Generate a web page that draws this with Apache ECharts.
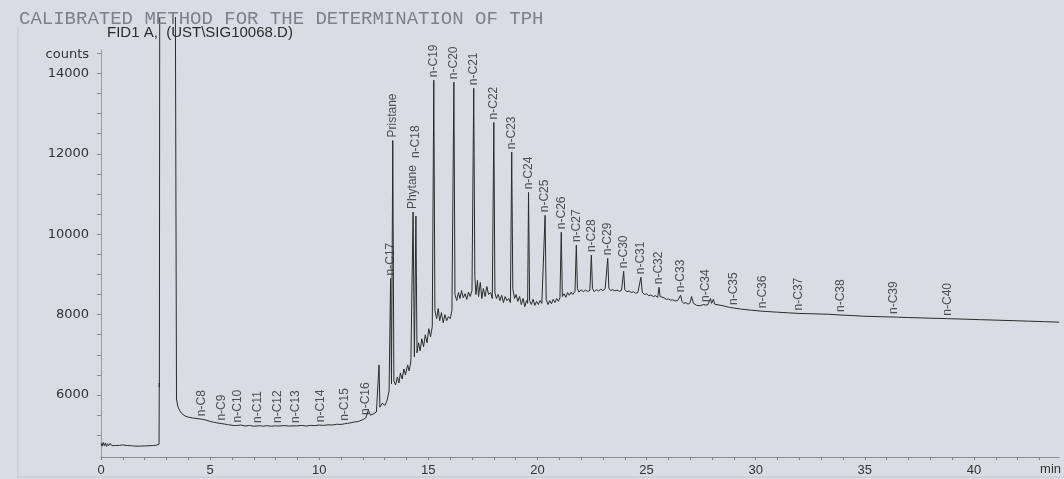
<!DOCTYPE html>
<html>
<head>
<meta charset="utf-8">
<script src="https://cdn.jsdelivr.net/npm/echarts@6/dist/echarts.min.js"></script>
<style>
  html, body { margin: 0; padding: 0; background: #d9dce3; }
  #chart { width: 1064px; height: 479px; }
</style>
</head>
<body>
<div id="chart"></div>
<script>
// FID trace as [retention time (min), counts]; null breaks the line where the signal is off scale
const earlyTrace = [
  [0.00,4800],[0.05,4730],[0.10,4820],[0.15,4740],[0.20,4810],[0.25,4720],[0.30,4790],[0.35,4740],
  [0.42,4800],[0.50,4740],[0.58,4780],[0.66,4745],[0.75,4770],[0.85,4750],[1.0,4760],[1.2,4745],
  [1.4,4740],[1.6,4730],[1.8,4730],[2.0,4735],[2.2,4740],[2.4,4745],[2.55,4755],[2.66,4780],
  [2.67,6300],[2.675,6200],[2.69,15400],[2.70,null]
];
const solventTail = [
  [3.41,15400],[3.46,5900],[3.52,5720],[3.6,5620],[3.7,5540],[3.85,5480],[4.0,5450],[4.2,5430],[4.4,5415]
];
const alkaneBaseline = [
  [4.8,5380],[5.0,5345],[5.2,5320],[5.4,5300],[5.65,5280],[5.8,5265],[6.0,5250],[6.15,5240],[6.4,5255],
  [6.6,5230],[6.8,5245],[7.0,5225],[7.3,5240],[7.4,5225],[7.6,5240],[7.8,5225],[8.0,5235],[8.2,5225],
  [8.4,5240],[8.6,5230],[8.8,5235],[9.0,5225],[9.2,5245],[9.4,5230],[9.6,5245],[9.8,5240],[10.0,5255],
  [10.2,5245],[10.4,5260],[10.6,5255],[10.8,5275],[11.0,5270],[11.3,5295],[11.4,5305],[11.6,5330],
  [11.8,5345],[12.0,5390],[12.25,5620],[12.35,5500],[12.5,5540],[12.62,5580],[12.7,5620],[12.74,6750],
  [12.78,5700],[12.9,5800],[13.0,5740],[13.1,5850],[13.2,6100],[13.31,6280],[13.42,6350],[13.5,6250],
  [13.58,6450],[13.65,6300],[13.72,6550],[13.8,6400],[13.88,6650],[13.95,6500],[14.05,6750],[14.12,6600],
  [14.2,6850],[14.36,6950],[14.48,7050],[14.55,7300],[14.62,7100],[14.7,7400],[14.78,7200],[14.86,7500],
  [14.94,7300],[15.02,7650],[15.1,7450],[15.18,7700]
];
const humpTrace = [
  [15.3,8100],[15.38,7900],[15.45,8150],[15.52,7850],[15.6,8050],[15.68,7800],[15.76,8000],[15.84,7850],
  [15.92,7950],[16.0,7900],[16.08,8100],
  [16.22,8500],[16.3,8350],[16.38,8550],[16.45,8400],[16.52,8600],[16.6,8420],[16.68,8520],[16.76,8380],
  [16.84,8560],[16.92,8450],[17.0,8600],
  [17.13,8950],[17.18,8500],[17.25,8850],[17.3,8450],[17.38,8800],[17.45,8400],[17.52,8650],[17.6,8450],
  [17.68,8700],[17.76,8500],[17.85,8550],[17.93,8400],
  [18.05,8550],[18.12,8400],[18.2,8500],[18.28,8350],[18.36,8480],[18.44,8300],[18.52,8450],[18.6,8350],
  [18.68,8400],[18.76,8300],
  [18.87,8650],[18.95,8400],[19.02,8500],[19.1,8330],[19.18,8450],[19.26,8250],[19.34,8400],[19.42,8200],
  [19.5,8350],[19.55,8280],
  [19.64,8350],[19.72,8250],[19.8,8380],[19.88,8230],[19.96,8330],[20.04,8250],[20.12,8350],[20.2,8280],
  [20.28,8320],
  [20.4,8380],[20.48,8250],[20.56,8350],[20.64,8270],[20.72,8380],[20.8,8300],[20.88,8400],[20.96,8330],
  [21.03,8420],
  [21.14,8450],[21.22,8520],[21.3,8430],[21.38,8550],[21.46,8480],[21.54,8560],[21.62,8500],[21.72,8580],
  [21.83,8650],[21.9,8560],[22.0,8620],[22.1,8570],[22.2,8610],[22.3,8580],[22.4,8600],
  [22.52,8650],[22.6,8570],[22.7,8620],[22.8,8590],[22.9,8630],[23.0,8600],[23.1,8640],[23.16,8620],
  [23.27,8660],[23.35,8600],[23.45,8620],[23.55,8590],[23.65,8610],[23.75,8580],[23.85,8600],[23.9,8590],
  [24.0,8620],[24.1,8570],[24.2,8590],[24.3,8550],[24.4,8570],[24.5,8530],[24.6,8550],[24.69,8520],
  [24.8,8560],[24.9,8500],[25.0,8520],[25.1,8470],[25.2,8490],[25.3,8450],[25.4,8470],[25.51,8430],
  [25.62,8450],[25.7,8410],[25.8,8420],[25.9,8380],[26.0,8390],[26.1,8360],[26.2,8370],[26.3,8340],
  [26.42,8350],[26.5,8330],
  [26.62,8330],[26.7,8280],[26.8,8300],[26.9,8260],[27.0,8300],[27.06,8450],[27.15,8280],[27.3,8230],
  [27.45,8220],[27.6,8250],
  [27.8,8240],[27.88,8280],[27.93,8400],[27.98,8280],[28.06,8380],[28.12,8260]
];
const lateTrace = [
  [28.2,8270],[28.5,8220],[28.8,8180],[29.3,8140],[29.8,8110],[31.0,8060],[31.5,8045],[32.5,8022],
  [33.3,8010],[34.5,7975],[34.9,7962],[35.6,7950],[37.0,7928],[37.9,7913],[39.5,7888],[40.3,7875],
  [41.0,7863],[41.8,7850],[42.5,7838],[43.2,7825],[43.9,7813]
];

// Identified peaks: name, retention time (min) and apex counts
const peakNames = [
  'n-C8','n-C9','n-C10','n-C11','n-C12','n-C13','n-C14','n-C15','n-C16',
  'n-C17','Pristane','Phytane','n-C18','n-C19','n-C20','n-C21','n-C22','n-C23','n-C24',
  'n-C25','n-C26','n-C27','n-C28','n-C29','n-C30','n-C31','n-C32','n-C33','n-C34',
  'n-C35','n-C36','n-C37','n-C38','n-C39','n-C40'
];
const peakTimes = [
  4.61, 5.53, 6.25, 7.2, 8.11, 8.94, 10.08, 11.15, 12.13,
  13.27, 13.37, 14.30, 14.43, 15.25, 16.17, 17.08, 18.0, 18.82, 19.59,
  20.35, 21.09, 21.78, 22.47, 23.22, 23.95, 24.74, 25.57, 26.56, 27.7,
  28.98, 30.3, 31.98, 33.9, 36.3, 38.8
];
const peakCounts = [
  5400, 5290, 5245, 5232, 5230, 5232, 5250, 5285, 5430,
  8900, 12330, 10550, 10450, 13830, 13780, 13630, 12780, 12040, 11040,
  10470, 10050, 9730, 9480, 9400, 9080, 8930, 8680, 8480, 8240,
  8165, 8085, 8030, 7990, 7940, 7900
];

// Axis ticks
const xTickLabels = [0, 5, 10, 15, 20, 25, 30, 35, 40];
const xMinorTicks = [0,1,2,3,4,5,6,7,8,9,10,11,12,13,14,15,16,17,18,19,20,21,22,23,24,25,26,27,28,29,30,31,32,33,34,35,36,37,38,39,40,41,42,43];
const yTickLabels = [6000, 8000, 10000, 12000, 14000];
const yMinorTicks = [5000,5500,6000,6500,7000,7500,8000,8500,9000,9500,10000,10500,11000,11500,12000,12500,13000,13500,14000,14500];

// Extra label lift (px) where two labels would collide
const labelLift = { 'n-C18': 58 };

const peakPoints = peakNames.map((n, i) => [peakTimes[i], peakCounts[i]]);
const trace = [].concat(earlyTrace, solventTail, alkaneBaseline, humpTrace, lateTrace, peakPoints)
  .sort((a, b) => a[0] - b[0]);

const chart = echarts.init(document.getElementById('chart'), null, { renderer: 'canvas' });

const sans = 'Liberation Sans, Arial, sans-serif';
const wide = 'DejaVu Sans, sans-serif';

chart.setOption({
  backgroundColor: '#d9dce3',
  animation: false,
  title: [
    {
      text: 'CALIBRATED METHOD FOR THE DETERMINATION OF TPH',
      left: 19, top: 9, padding: 0,
      textStyle: { fontFamily: 'Liberation Mono, monospace', fontSize: 19, fontWeight: 'normal', color: '#7d8087' }
    },
    {
      text: 'FID1 A,  (UST\\SIG10068.D)',
      left: 107, top: 25, padding: 0,
      textStyle: { fontFamily: sans, fontSize: 15, fontWeight: 'normal', color: '#2c2c2c' }
    }
  ],
  grid: { left: 101, right: 0, top: 50, bottom: 22, containLabel: false },
  xAxis: {
    type: 'value', min: 0, max: 43.9,
    name: 'min', nameLocation: 'end', nameGap: -19,
    nameTextStyle: { fontFamily: sans, fontSize: 13, color: '#333', align: 'left', verticalAlign: 'top', padding: [6, 0, 0, 0] },
    axisLine: { show: true, onZero: false, lineStyle: { color: '#8c8e93', width: 1 } },
    axisTick: { show: true, length: 3, customValues: xMinorTicks, lineStyle: { color: '#7c7e83' } },
    axisLabel: {
      customValues: xTickLabels, margin: 7,
      fontFamily: sans, fontSize: 13, color: '#333',
      formatter: v => (v % 5 === 0 ? String(v) : '')
    },
    splitLine: { show: false }
  },
  yAxis: {
    type: 'value', min: 4460, max: 14580,
    name: 'counts', nameLocation: 'end', nameGap: -5,
    nameTextStyle: { fontFamily: wide, fontSize: 13, color: '#333', align: 'right', verticalAlign: 'middle', padding: [0, 12, 0, 0] },
    axisLine: { show: true, lineStyle: { color: '#9a9ca1', width: 1 } },
    axisTick: { show: true, length: 4, customValues: yMinorTicks, lineStyle: { color: '#8c8e93' } },
    axisLabel: {
      customValues: yTickLabels, margin: 12,
      fontFamily: wide, fontSize: 13, color: '#333',
      formatter: v => String(v)
    },
    splitLine: { show: false }
  },
  series: [
    {
      type: 'line',
      data: trace,
      symbol: 'none',
      clip: false,
      connectNulls: false,
      lineStyle: { color: '#2b2b2b', width: 1 }
    },
    {
      type: 'scatter',
      symbolSize: 0,
      clip: false,
      silent: true,
      data: peakNames.map((n, i) => {
        const item = { name: n, value: [peakTimes[i], peakCounts[i]] };
        if (labelLift[n]) item.label = { distance: labelLift[n] };
        return item;
      }),
      label: {
        show: true, position: 'top', rotate: 90, distance: 3,
        align: 'left', verticalAlign: 'middle',
        fontFamily: sans, fontSize: 12, color: '#2a2a2a',
        formatter: p => p.name
      }
    }
  ],
  graphic: [
    { type: 'line', shape: { x1: 18, y1: 27, x2: 18, y2: 479 }, style: { stroke: '#c3c6cd', lineWidth: 1 }, silent: true },
    { type: 'line', shape: { x1: 18, y1: 477, x2: 1064, y2: 477 }, style: { stroke: '#c3c6cd', lineWidth: 1 }, silent: true }
  ]
});
</script>
</body>
</html>
